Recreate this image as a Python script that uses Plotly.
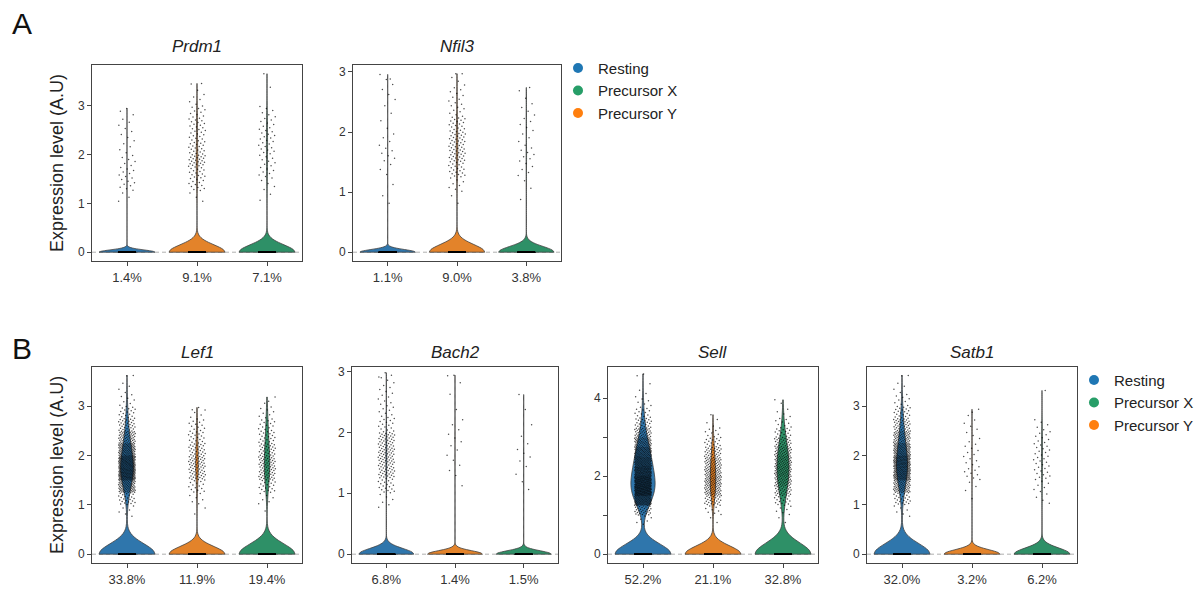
import numpy as np
import plotly.graph_objects as go

# ---------------- data ----------------
groups = ["Resting", "Precursor Y", "Precursor X"]          # x order in every panel
legend_order = ["Resting", "Precursor X", "Precursor Y"]
fill_colors = {"Resting": "#2f76ac", "Precursor Y": "#e3832a", "Precursor X": "#2e9067"}
legend_colors = {"Resting": "#1f77b4", "Precursor X": "#279e68", "Precursor Y": "#ff7f0e"}

genes = ["Prdm1", "Nfil3", "Lef1", "Bach2", "Sell", "Satb1"]

# percentage of cells with expression > 0 (x tick labels), per group in `groups` order
pct_prdm1 = ["1.4%", "9.1%", "7.1%"]
pct_nfil3 = ["1.1%", "9.0%", "3.8%"]
pct_lef1 = ["33.8%", "11.9%", "19.4%"]
pct_bach2 = ["6.8%", "1.4%", "1.5%"]
pct_sell = ["52.2%", "21.1%", "32.8%"]
pct_satb1 = ["32.0%", "3.2%", "6.2%"]

# counts of expressing cells per 0.25-wide expression bin, bins starting at 0.75
BIN_START = 0.75
BIN_W = 0.25
hist_prdm1 = {"Resting": [0, 3, 8, 8, 6, 4, 4, 4, 2],
              "Precursor Y": [0, 3, 12, 16, 24, 18, 14, 14, 10, 5, 2],
              "Precursor X": [0, 2, 4, 8, 8, 10, 10, 8, 6, 0, 1]}
hist_nfil3 = {"Resting": [2, 1, 3, 6, 4, 2, 2, 3, 3],
              "Precursor Y": [2, 8, 20, 28, 26, 20, 10, 8, 4],
              "Precursor X": [1, 2, 5, 7, 4, 5, 4, 2]}
hist_lef1 = {"Resting": [6, 24, 78, 138, 132, 90, 54, 30, 18, 7, 4, 1],
             "Precursor Y": [2, 6, 14, 30, 34, 26, 18, 12, 5],
             "Precursor X": [1, 6, 18, 34, 36, 28, 20, 14, 8, 2]}
hist_bach2 = {"Resting": [6, 20, 36, 40, 36, 16, 10, 8, 6],
              "Precursor Y": [0, 1, 3, 3, 4, 3, 1, 1, 2],
              "Precursor X": [0, 2, 2, 4, 2, 1, 1]}
hist_sell = {"Resting": [6, 30, 102, 150, 144, 120, 102, 84, 60, 36, 21, 12, 6, 3, 1, 1],
             "Precursor Y": [2, 8, 25, 45, 50, 45, 38, 28, 16, 8, 3],
             "Precursor X": [2, 6, 16, 30, 42, 48, 46, 40, 28, 16, 8, 4, 1]}
hist_satb1 = {"Resting": [6, 24, 66, 114, 120, 90, 60, 36, 21, 9, 4, 1],
              "Precursor Y": [0, 1, 3, 8, 6, 6, 4, 4, 2],
              "Precursor X": [0, 4, 6, 10, 10, 10, 8, 5]}

# maximum expression value per group
max_prdm1 = [2.88, 3.45, 3.65]
max_nfil3 = [2.88, 2.97, 2.74]
max_lef1 = [3.62, 2.93, 3.10]
max_bach2 = [2.91, 2.93, 2.62]
max_sell = [4.58, 3.58, 3.96]
max_satb1 = [3.62, 2.88, 3.32]

pcts = [pct_prdm1, pct_nfil3, pct_lef1, pct_bach2, pct_sell, pct_satb1]
hists = [hist_prdm1, hist_nfil3, hist_lef1, hist_bach2, hist_sell, hist_satb1]
maxes = [max_prdm1, max_nfil3, max_lef1, max_bach2, max_sell, max_satb1]

# ---------------- layout geometry (pixels) ----------------
W, H = 1202, 592
boxes = [  # x0, x1, y0(top), y1(bottom)
    (92, 302, 63, 260), (353, 561, 63, 260),
    (92, 302, 366, 563), (352, 558, 366, 563), (608, 818, 366, 563), (867, 1077, 366, 563),
]
FONT = "Liberation Sans, Arial, sans-serif"


def expand(hist, vmax):
    vals = []
    for i, c in enumerate(hist):
        lo = BIN_START + i * BIN_W
        for k in range(c):
            vals.append(lo + BIN_W * (k + 0.5) / c)
    vals.append(vmax)
    return vals


fig = go.Figure()
layout = {}
shapes = []
annotations = []
scatter_traces = []

for gi, gene in enumerate(genes):
    ax = "" if gi == 0 else str(gi + 1)
    xa, ya = "x" + ax, "y" + ax
    x0, x1, y0, y1 = boxes[gi]
    ymax = max(maxes[gi])
    for pos, g in enumerate(groups):
        nz = expand(hists[gi][g], maxes[gi][pos])
        p = float(pcts[gi][pos].rstrip("%")) / 100.0
        n_total = int(round(len(nz) / p))
        vals = np.array([0.0] * (n_total - len(nz)) + nz)
        bw = float(np.std(vals, ddof=1) * len(vals) ** (-0.2))
        fig.add_trace(go.Violin(
            x=np.full(len(vals), pos), y=vals, xaxis=xa, yaxis=ya,
            fillcolor=fill_colors[g], line=dict(color="#404040", width=0.8),
            opacity=1, spanmode="hard", scalemode="width", width=0.8,
            bandwidth=bw, points=False, box_visible=False, meanline_visible=False,
            showlegend=False, hoverinfo="skip", name=g))
        jit = ((np.arange(len(vals)) * 0.6180339887) % 1.0 - 0.5) * 0.24
        scatter_traces.append(go.Scatter(
            x=pos + jit, y=vals, xaxis=xa, yaxis=ya, mode="markers",
            marker=dict(size=1.5, color="rgba(0,0,0,0.7)", line=dict(width=0)),
            showlegend=False, hoverinfo="skip"))

    xdom = [x0 / W, x1 / W]
    ydom = [1 - y1 / H, 1 - y0 / H]
    axis_common = dict(showline=True, mirror=True, linecolor="#444", linewidth=1,
                       ticks="outside", ticklen=4, tickwidth=1, tickcolor="#444",
                       showgrid=False, zeroline=False)
    layout["xaxis" + ax] = dict(domain=xdom, anchor=ya, range=[-0.5, 2.5],
                                tickvals=[0, 1, 2], ticktext=pcts[gi],
                                tickfont=dict(size=13, color="#333", family=FONT),
                                **axis_common)
    ydict = dict(domain=ydom, anchor=xa, range=[-0.05 * ymax, 1.05 * ymax],
                 tickfont=dict(size=12, color="#333", family=FONT), **axis_common)
    if gene == "Sell":
        ydict.update(tickvals=[0, 2, 4], minor=dict(tickvals=[1, 3], ticks="outside",
                                                    ticklen=4, tickcolor="#444"))
    else:
        ydict.update(dtick=1, tick0=0)
    layout["yaxis" + ax] = ydict

    shapes.append(dict(type="line", xref=xa + " domain", yref=ya, x0=0, x1=1, y0=0, y1=0,
                       line=dict(color="#b0b0b0", width=1, dash="4px,3px"), layer="below"))
    title_y = 45 if gi < 2 else 352
    annotations.append(dict(text="<i>" + gene + "</i>", xref="paper", yref="paper",
                            x=(x0 + x1) / 2 / W, y=1 - title_y / H, showarrow=False,
                            xanchor="center", yanchor="middle",
                            font=dict(size=17, color="#222", family=FONT)))

for tr in scatter_traces:
    fig.add_trace(tr)

# legend entries
for lg in ["legend", "legend2"]:
    for g in legend_order:
        fig.add_trace(go.Scatter(x=[None], y=[None], mode="markers", name=g,
                                 marker=dict(size=10, color=legend_colors[g]),
                                 legend=lg, legendgroup=lg + g, showlegend=True))

for ytxt in [161.5, 464.5]:
    annotations.append(dict(text="Expression level (A.U)", xref="paper", yref="paper",
                            x=57 / W, y=1 - ytxt / H, showarrow=False, textangle=-90,
                            xanchor="center", yanchor="middle",
                            font=dict(size=18, color="#222", family=FONT)))
for lbl, (lx, ly) in {"A": (22, 22), "B": (22, 348)}.items():
    annotations.append(dict(text=lbl, xref="paper", yref="paper", x=lx / W, y=1 - ly / H,
                            showarrow=False, xanchor="center", yanchor="middle",
                            font=dict(size=30, color="#111", family=FONT)))

legend_common = dict(font=dict(size=15, color="#222", family=FONT), bgcolor="rgba(0,0,0,0)",
                     traceorder="grouped", tracegroupgap=0, xanchor="left", yanchor="top",
                     itemclick=False, itemdoubleclick=False)
layout["legend"] = dict(x=558 / W, y=1 - 50 / H, **legend_common)
layout["legend2"] = dict(x=1074 / W, y=1 - 363 / H, **legend_common)

fig.update_layout(width=W, height=H, margin=dict(l=0, r=0, t=0, b=0),
                  plot_bgcolor="white", paper_bgcolor="white",
                  violinmode="overlay", shapes=shapes, annotations=annotations,
                  font=dict(family=FONT), **layout)
fig.write_html("out.html", config={"displayModeBar": False},
               post_script="document.body.style.margin='0';")
